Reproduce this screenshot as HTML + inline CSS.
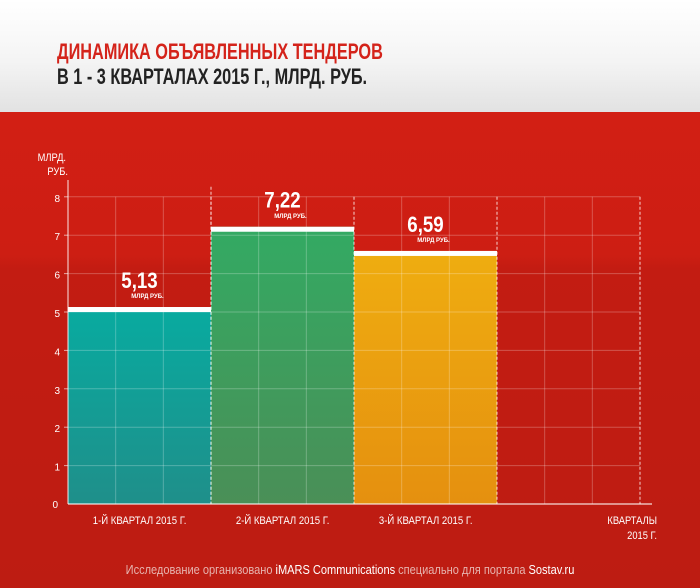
<!DOCTYPE html>
<html><head><meta charset="utf-8"><style>
body{margin:0;width:700px;height:588px;overflow:hidden;font-family:"Liberation Sans",sans-serif}
#hdr{position:absolute;left:0;top:0;width:700px;height:112px;background:linear-gradient(#ffffff 0%,#f4f4f4 55%,#e2e2e2 100%)}
#bg{position:absolute;left:0;top:112px;width:700px;height:476px;background:linear-gradient(#d21f14 0%,#cd1e13 30%,#c31c12 33%,#bd1c12 100%)}
.t{position:absolute;font-weight:bold;transform-origin:0 0;transform:scaleX(0.74);white-space:nowrap;font-size:22px}
</style></head><body>
<div id="hdr"></div>
<div id="bg"></div>
<div class="t" style="left:57px;top:39px;color:#d4231a">ДИНАМИКА ОБЪЯВЛЕННЫХ ТЕНДЕРОВ</div>
<div class="t" style="left:57px;top:64px;color:#222">В 1 - 3 КВАРТАЛАХ 2015 Г., МЛРД. РУБ.</div>
<svg id="c" width="700" height="588" style="position:absolute;left:0;top:0" font-family="Liberation Sans, sans-serif"></svg>
<script>
const categories=["1-Й КВАРТАЛ 2015 Г.","2-Й КВАРТАЛ 2015 Г.","3-Й КВАРТАЛ 2015 Г.",""];
const values=[5.13,7.22,6.59,null];
const valueLabels=["5,13","7,22","6,59",""];
const colors=[["#08aba0","#1f8f8a"],["#33aa63","#4a8f57"],["#efad10","#e5900f"]];
const yTicks=[0,1,2,3,4,5,6,7,8];
const svg=document.getElementById('c');const NS="http://www.w3.org/2000/svg";
const x0=68,bw=143,yb=504,unit=38.4;
const y=v=>yb-v*unit;const x=i=>x0+i*bw;
function el(t,a,p){const e=document.createElementNS(NS,t);for(const k in a)e.setAttribute(k,a[k]);(p||svg).appendChild(e);return e;}
let defs=el('defs',{});
colors.forEach((c,i)=>{const g=el('linearGradient',{id:'g'+i,x1:0,y1:0,x2:0,y2:1},defs);el('stop',{offset:0,'stop-color':c[0]},g);el('stop',{offset:1,'stop-color':c[1]},g);});
values.forEach((v,i)=>{if(v==null)return;
const r=el('rect',{x:x(i),y:y(v),width:bw,height:yb-y(v),fill:'url(#g'+i+')'});


const cap=el('rect',{x:x(i),y:y(v),width:bw,height:5,fill:'#fff'});


const cx=x(i)+bw*0.5;
const lt=el('text',{x:cx/0.85,y:y(v)-19,'font-size':22,'font-weight':'bold',fill:'#fff','text-anchor':'middle',transform:'scale(0.85,1)'});lt.textContent=valueLabels[i];


const st=el('text',{x:cx+8,y:y(v)-9,'font-size':6,'font-weight':'bold',fill:'#fff','text-anchor':'middle'});st.textContent='МЛРД РУБ.';


});
yTicks.forEach(t=>{if(t===0)return;const l=el('line',{x1:x0,x2:x(4),y1:y(t),y2:y(t),stroke:'rgba(255,255,255,0.25)','stroke-width':1});

});
for(let i=0;i<4;i++){for(let k=1;k<=3;k++){const xx=x(i)+k*bw/3;const l=el('line',{x1:xx,x2:xx,y1:y(8),y2:yb,stroke:k===3?'rgba(255,255,255,0.8)':'rgba(255,255,255,0.25)','stroke-dasharray':k===3?'3,2':'','stroke-width':1});

}}
const d0=el('line',{x1:x(1),x2:x(1),y1:y(8)-10,y2:yb,stroke:'rgba(255,255,255,0.8)','stroke-dasharray':'3,2'});


const ya=el('line',{x1:x0,x2:x0,y1:180,y2:yb,stroke:'rgba(255,255,255,0.6)','stroke-width':1.5});


const xa=el('line',{x1:x0,x2:652,y1:yb,y2:yb,stroke:'rgba(255,255,255,0.7)','stroke-width':1.5});


yTicks.forEach(t=>{const tx=el('text',{x:t===0?58:60,y:y(t)+(t===0?4:5),'font-size':10,fill:'#fff','text-anchor':'end'});tx.textContent=t;


if(t>0){const tk=el('line',{x1:x0-4,x2:x0,y1:y(t),y2:y(t),stroke:'rgba(255,255,255,0.6)'});

}});
categories.forEach((c,i)=>{if(!c)return;const tx=el('text',{x:(x(i)+bw/2)*1.15,y:524,'font-size':11,fill:'#fff','text-anchor':'middle',transform:'scale(0.87,1)'});tx.textContent=c;

});
function txt(s,xx,yy,fs,anchor,name,fill){const t=el('text',{x:xx/0.85,y:yy,'font-size':fs,fill:fill||'#fff','text-anchor':anchor,transform:'scale(0.85,1)'});t.textContent=s;

return t;}
txt('МЛРД.',66,161,11,'end','y-axis-title');
txt('РУБ.',68,175,11,'end','y-axis-title-2');
txt('КВАРТАЛЫ',657,524,11,'end','x-axis-title');
txt('2015 Г.',657,539,11,'end','x-axis-title-2');
const f=el('text',{x:350/0.85,y:574,'font-size':13,fill:'#e6b3ae','text-anchor':'middle',transform:'scale(0.85,1)'});


f.innerHTML='Исследование организовано <tspan fill="#fff">iMARS Communications</tspan> специально для портала <tspan fill="#fff">Sostav.ru</tspan>';
</script>
</body></html>
